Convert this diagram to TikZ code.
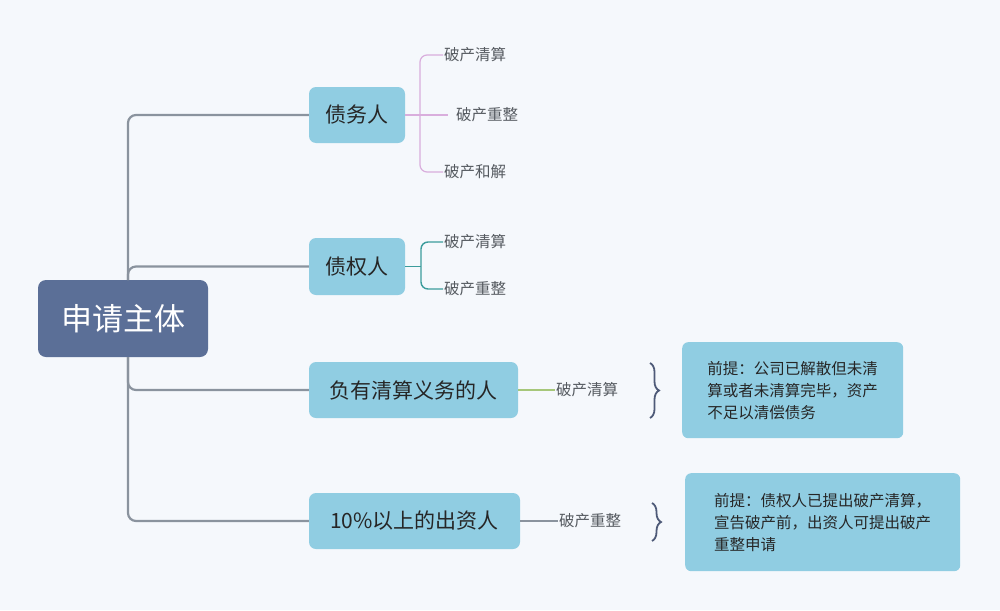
\documentclass[tikz,border=0pt]{standalone}
\usepackage{fontspec}
\setmainfont{Noto Sans CJK SC}
\usetikzlibrary{decorations.pathreplacing}
\definecolor{bg}{HTML}{F5F8FC}
\definecolor{rootc}{HTML}{5B6F97}
\definecolor{nodec}{HTML}{90CDE2}
\definecolor{trunk}{HTML}{8A939E}
\definecolor{purp}{HTML}{D9AEDD}
\definecolor{teal}{HTML}{3C9C9C}
\definecolor{grn}{HTML}{A6C77A}
\definecolor{txt}{HTML}{555A60}
\definecolor{brc}{HTML}{4E5A78}
\tikzset{
  child/.style={fill=nodec,rounded corners=7pt,font=\fontsize{21}{24}\selectfont,text=black!85,anchor=west,inner sep=0pt},
  leaf/.style={font=\fontsize{15.5}{18}\selectfont,text=txt,anchor=west,inner sep=1pt},
  note/.style={fill=nodec,rounded corners=6pt,font=\fontsize{15.5}{22}\selectfont,text=black!85,anchor=north west,align=left,inner xsep=12pt,inner ysep=8pt},
  tr/.style={draw=trunk,line width=2.2pt,rounded corners=8pt},
  br/.style={draw=brc,line width=1.8pt,decorate,decoration={brace,amplitude=9pt}}
}
\begin{document}
\begin{tikzpicture}[x=1pt,y=-1pt]
\fill[bg] (0,0) rectangle (1000,610);
\useasboundingbox (0,0) rectangle (1000,610);
\node[fill=rootc,rounded corners=8pt,minimum width=170pt,minimum height=77pt,text=white,font=\fontsize{31}{34}\selectfont] (root) at (123,318.5) {申请主体};
\node[child,minimum width=96pt,minimum height=56pt,anchor=center] (c1) at (357,115) {债务人};
\node[child,minimum width=96pt,minimum height=57pt,anchor=center] (c2) at (357,266.5) {债权人};
\node[child,minimum width=209pt,minimum height=56pt,anchor=center] (c3) at (413.5,390) {负有清算义务的人};
\node[child,minimum width=211pt,minimum height=56pt,anchor=center] (c4) at (414.5,521) {10\%以上的出资人};
\coordinate (t) at (128,280);
\coordinate (b) at (128,357);
\draw[tr] (t) |- (c1.west);
\draw[tr] (t) |- (c2.west);
\draw[tr] (b) |- (c3.west);
\draw[tr] (b) |- (c4.west);
% debtor
\node[leaf] (l1) at (443,55) {破产清算};
\node[leaf] (l2) at (455,115) {破产重整};
\node[leaf] (l3) at (443,172) {破产和解};
\coordinate (p1) at (420,115);
\draw[purp,line width=1.2pt] (c1.east) -- (448,115);
\draw[purp,line width=1.2pt,rounded corners=7pt] (l1.west) -| (p1) |- (l3.west);
% creditor
\node[leaf] (m1) at (443,242) {破产清算};
\node[leaf] (m2) at (443,289) {破产重整};
\coordinate (p2) at (421,266.5);
\draw[teal,line width=1.4pt] (c2.east) -- (p2);
\draw[teal,line width=1.4pt,rounded corners=7pt] (m1.west) -| (p2) |- (m2.west);
% liquidator
\node[leaf] (n1) at (555,390) {破产清算};
\draw[grn,line width=1.2pt] (c3.east) -- (n1.west);
\coordinate (bt1) at (650,363);
\coordinate (bb1) at (650,418);
\draw[br] (bt1) -- (bb1);
\node[note,minimum width=221pt,minimum height=96pt] (x1) at (682,342) {前提：公司已解散但未清\\算或者未清算完毕，资产\\不足以清偿债务};
% investor
\node[leaf] (n2) at (558,521) {破产重整};
\draw[trunk,line width=1.2pt] (c4.east) -- (n2.west);
\coordinate (bt2) at (652,503);
\coordinate (bb2) at (652,541);
\draw[br] (bt2) -- (bb2);
\node[note,minimum width=275pt,minimum height=98pt] (x2) at (685,473) {前提：债权人已提出破产清算，\\宣告破产前，出资人可提出破产\\重整申请};
\end{tikzpicture}
\end{document}
